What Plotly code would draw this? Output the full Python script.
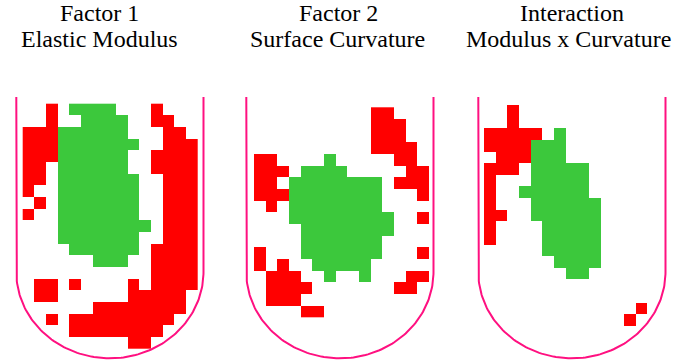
import numpy as np
import plotly.graph_objects as go

# Significance maps for the three effects; R = negative region, G = positive region
elastic_modulus = [
    "..R.GGGG...R...",
    "..R..GGGG..RR..",
    "RRRGGGGGG...RR.",
    "RRRGGGGGGG..RRR",
    "RRRGGGGGG..RRRR",
    "RR.GGGGGG..RRRR",
    "RR.GGGGGGG..RRR",
    "R..GGGGGGG..RRR",
    ".R.GGGGGGG..RRR",
    "R..GGGGGGG..RRR",
    "...GGGGGGGG.RRR",
    "...GGGGGGG..RRR",
    "....GGGGGG.RRRR",
    "......GGG..RRRR",
    "...........RRRR",
    ".RR.R....R.RRRR",
    ".RR......RRRRR.",
    "......RRRRRRRR.",
    "..R.RRRRRRRRR..",
    "....RRRRRRRR...",
    ".........RR....",
]

surface_curvature = [
    "..........RR...",
    "..........RRR..",
    "..........RRR..",
    "..........RRRR.",
    "RR....G.....RR.",
    "RRR.GGGG.....RR",
    "RR.GGGGGGGG.RRR",
    "RRRGGGGGGGG...R",
    ".R.GGGGGGGG....",
    "...GGGGGGGGG..R",
    "....GGGGGGGG...",
    "....GGGGGGG....",
    "R...GGGGGGG...R",
    "R.R..GGGGG.....",
    ".RRR..G..G...RR",
    ".RRRR.......RR.",
    ".RRR...........",
    "....RR.........",
]

interaction = [
    "..R............",
    "..R............",
    "RRRRR.G........",
    "RRRRGGG........",
    ".RRRGGG........",
    "RRR.GGGGG......",
    "R...GGGGG......",
    "R..GGGGGG......",
    "R...GGGGGG.....",
    "RR..GGGGGG.....",
    "R....GGGGG.....",
    "R....GGGGG.....",
    ".....GGGGG.....",
    "......GGGG.....",
    ".......GG......",
    "...............",
    "...............",
    ".............R.",
    "............R..",
]

titles_top = ["Factor 1", "Factor 2", "Interaction"]
titles_bottom = ["Elastic Modulus", "Surface Curvature", "Modulus x Curvature"]

W, H = 690, 364
CELL = 11.65
RED, GREEN, OUTLINE = "#ff0000", "#3cc83c", "#ff1080"
TITLE_FONT = dict(family="Liberation Serif", size=24, color="black")

panels = [
    # grid, grid origin (left, top), outline left edge, title centres
    dict(grid=elastic_modulus, x0=22.7, y0=103.7, left=16.3, tx=(99, 99)),
    dict(grid=surface_curvature, x0=254.0, y0=107.3, left=246.3, tx=(338, 337)),
    dict(grid=interaction, x0=484.0, y0=105.0, left=478.3, tx=(571.5, 568)),
]
OUT_W, OUT_TOP, ARC_Y, OUT_BOTTOM = 187.2, 97.0, 272.0, 358.3


def to_z(rows):
    code = {".": None, "R": 1, "G": 2}
    return [[code[c] for c in row] for row in rows]


fig = go.Figure()
for p in panels:
    fig.add_trace(go.Heatmap(
        z=to_z(p["grid"]),
        x0=p["x0"] + CELL / 2, dx=CELL,
        y0=p["y0"] + CELL / 2, dy=CELL,
        zmin=1, zmax=2,
        colorscale=[[0, RED], [0.5, RED], [0.5, GREEN], [1, GREEN]],
        showscale=False, hoverinfo="skip",
    ))
    # U-shaped container: straight sides with an elliptical bottom
    cx = p["left"] + OUT_W / 2
    rx, ry = OUT_W / 2, OUT_BOTTOM - ARC_Y
    t = np.linspace(np.pi, 0, 120)
    xs = np.concatenate([[p["left"]], cx + rx * np.cos(t), [p["left"] + OUT_W]])
    ys = np.concatenate([[OUT_TOP], ARC_Y + ry * np.sin(t), [OUT_TOP]])
    fig.add_trace(go.Scatter(x=xs, y=ys, mode="lines",
                             line=dict(color=OUTLINE, width=2),
                             hoverinfo="skip", showlegend=False))

for p, top, bottom in zip(panels, titles_top, titles_bottom):
    for text, xc, yc in ((top, p["tx"][0], 13.4), (bottom, p["tx"][1], 39.4)):
        fig.add_annotation(x=xc, y=yc, text=text, showarrow=False,
                           xanchor="center", yanchor="middle", font=TITLE_FONT)

fig.update_layout(
    width=W, height=H, margin=dict(l=0, r=0, t=0, b=0),
    paper_bgcolor="white", plot_bgcolor="white", showlegend=False,
    xaxis=dict(range=[0, W], visible=False, fixedrange=True),
    yaxis=dict(range=[H, 0], visible=False, fixedrange=True),
)
fig.write_html("out.html")
